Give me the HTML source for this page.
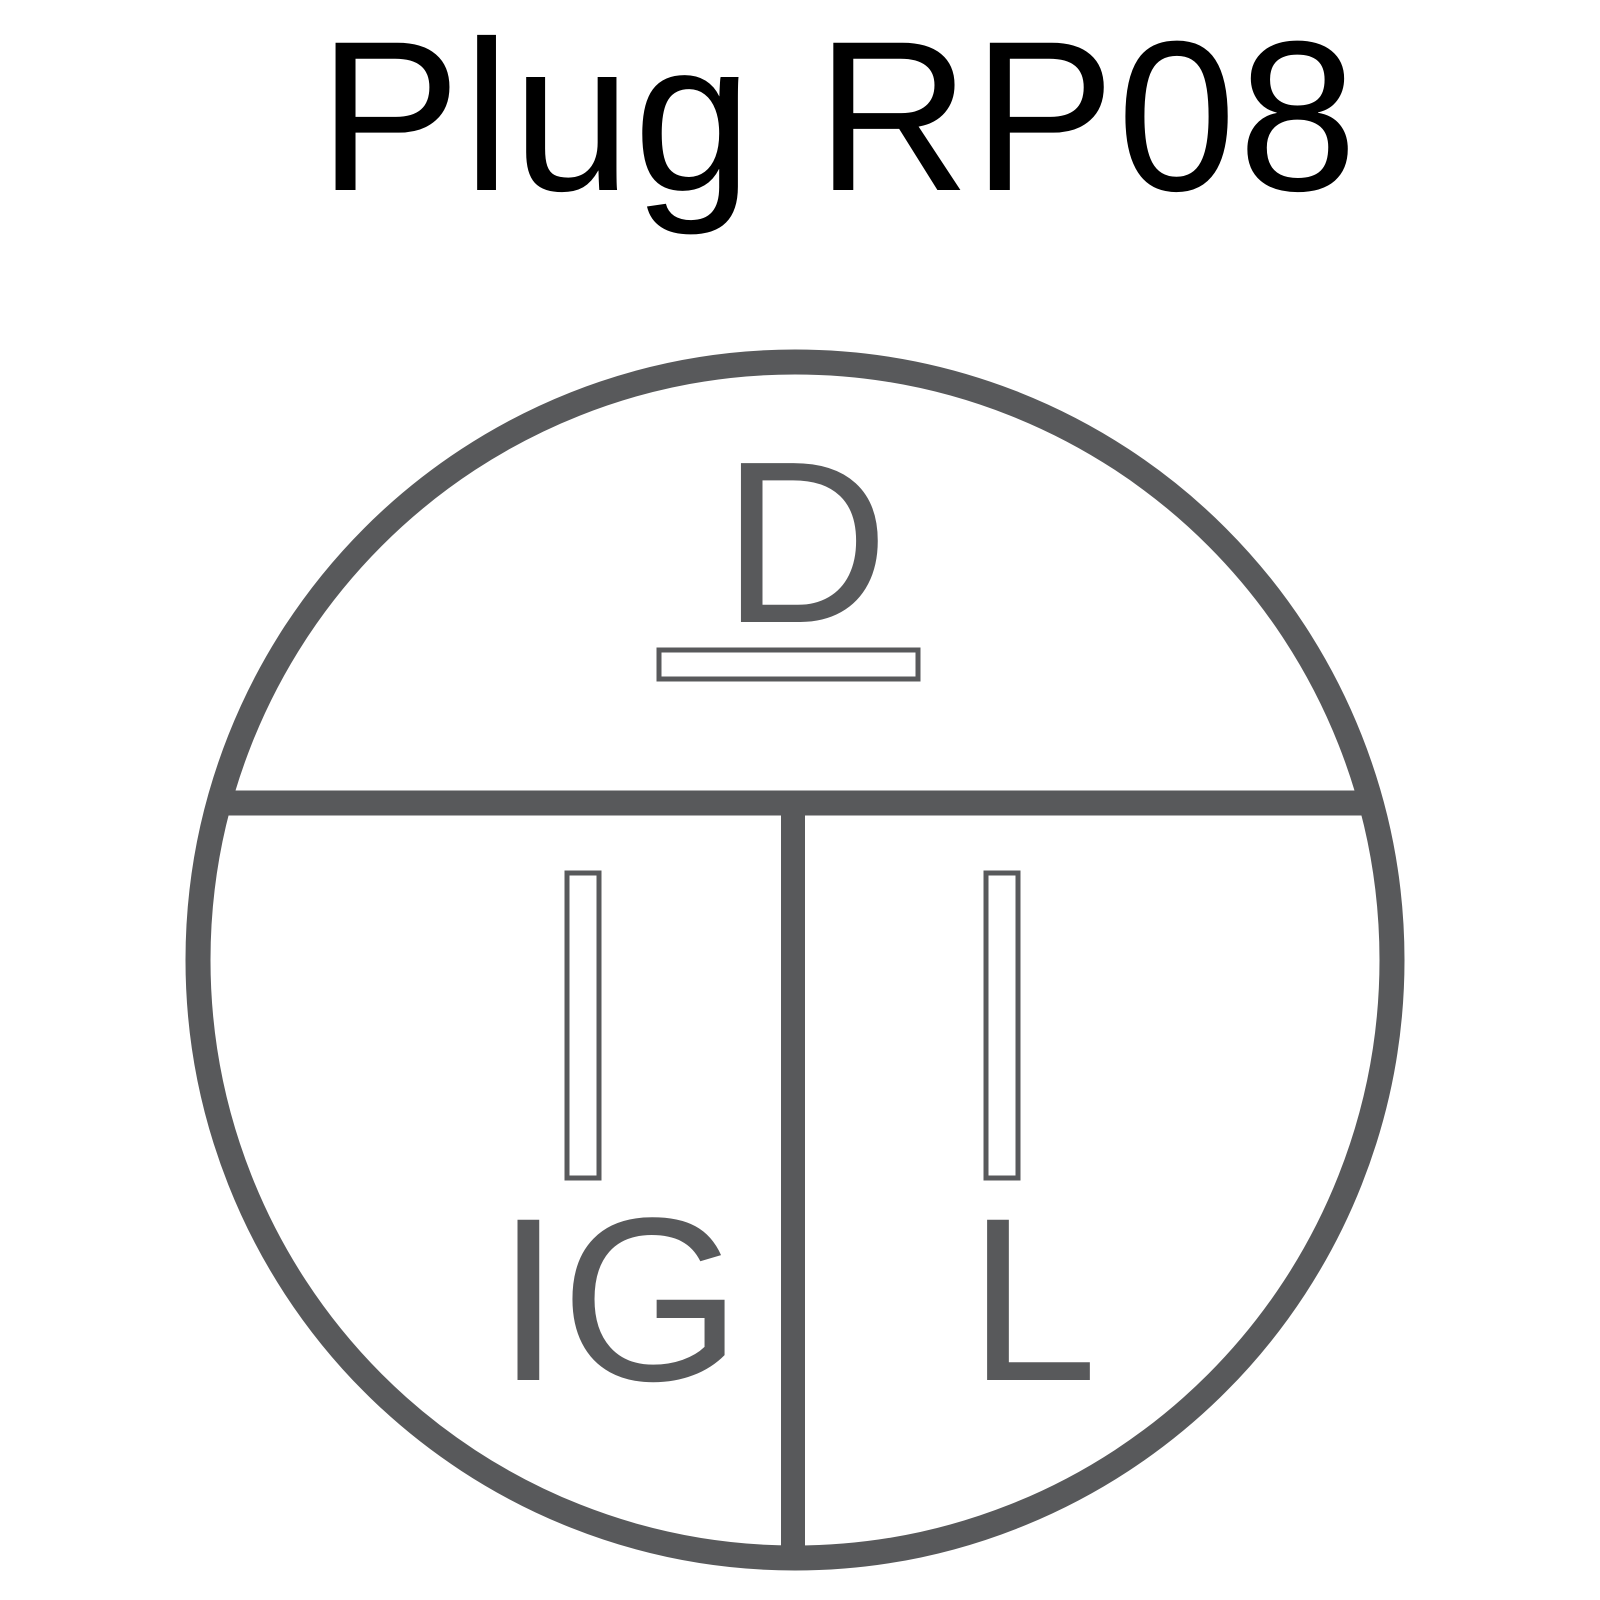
<!DOCTYPE html>
<html><head><meta charset="utf-8"><style>html,body{margin:0;padding:0;background:#fff;}svg{display:block}</style></head>
<body>
<svg width="1600" height="1600" viewBox="0 0 1600 1600" xmlns="http://www.w3.org/2000/svg">
<rect width="1600" height="1600" fill="#fff"/>
<text x="318" y="190" font-family="Liberation Sans, sans-serif" font-size="214" letter-spacing="2" fill="#000">Plug RP08</text>
<ellipse cx="795" cy="960" rx="597" ry="598" fill="none" stroke="#58595b" stroke-width="25"/>
<line x1="215" y1="803" x2="1375" y2="803" stroke="#58595b" stroke-width="25"/>
<line x1="793" y1="803" x2="793" y2="1560" stroke="#58595b" stroke-width="24"/>
<text x="722" y="622" font-family="Liberation Sans, sans-serif" font-size="231" fill="#58595b">D</text>
<rect x="659" y="650" width="259" height="29" fill="#fff" stroke="#58595b" stroke-width="5"/>
<rect x="567" y="873" width="32" height="305" fill="#fff" stroke="#58595b" stroke-width="5"/>
<rect x="986" y="873" width="32" height="305" fill="#fff" stroke="#58595b" stroke-width="5"/>
<text x="496" y="1380" font-family="Liberation Sans, sans-serif" font-size="233" fill="#58595b">IG</text>
<text x="968" y="1380" font-family="Liberation Sans, sans-serif" font-size="233" fill="#58595b">L</text>
</svg>
</body></html>
